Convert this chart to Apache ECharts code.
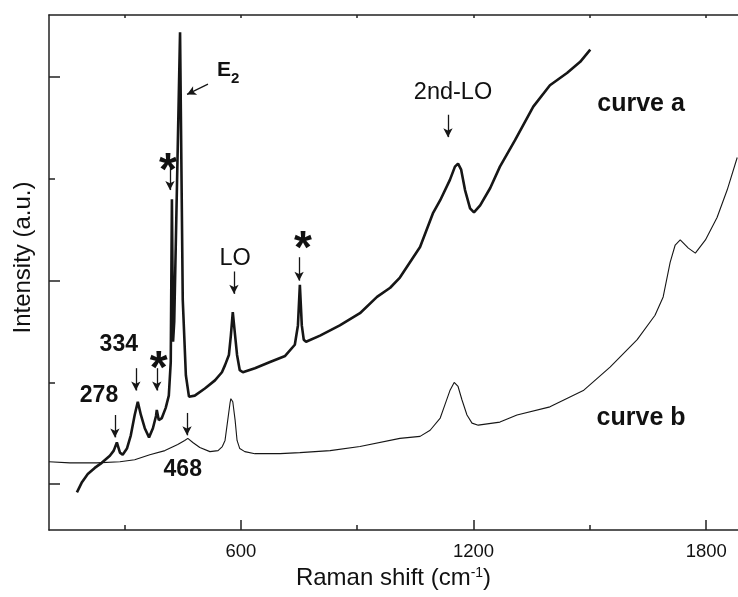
<!DOCTYPE html>
<html style="height: 100%">
<head>
<meta charset="utf-8">
</head>
<body style="height: 100%; margin: 0; background: #fff">
	<div id="container" style="width: 738px; height: 597px"></div>
	<script type="text/javascript"
		src="https://cdn.jsdelivr.net/npm/echarts/dist/echarts.min.js"></script>
	<script type="text/javascript">
		// Raman shift (cm-1), intensity in arbitrary units
		var curveA = [
			[177, -0.08], [190, 0.02], [205, 0.10], [223, 0.16], [241, 0.21],
			[262, 0.28], [272, 0.33], [280, 0.41], [288, 0.31], [295, 0.29],
			[306, 0.35], [316, 0.48], [326, 0.68], [334, 0.81], [342, 0.68],
			[352, 0.55], [363, 0.46], [373, 0.55], [381, 0.67], [383, 0.73],
			[388, 0.63], [396, 0.65], [406, 0.75], [414, 0.87], [419, 1.20],
			[422, 2.80], [425, 1.40], [428, 1.60], [443, 4.44], [450, 1.81],
			[458, 1.07], [466, 0.86], [481, 0.87], [507, 0.94], [533, 1.02],
			[551, 1.10], [559, 1.17], [569, 1.27], [574, 1.46], [579, 1.69],
			[585, 1.46], [590, 1.27], [597, 1.12], [605, 1.10], [636, 1.14],
			[675, 1.20], [714, 1.26], [739, 1.37], [747, 1.56], [752, 1.96],
			[757, 1.56], [762, 1.42], [768, 1.40], [804, 1.46], [855, 1.56],
			[907, 1.68], [951, 1.84], [985, 1.93], [1010, 2.03], [1036, 2.18],
			[1062, 2.33], [1095, 2.66], [1114, 2.79], [1139, 2.99], [1152, 3.12],
			[1160, 3.15], [1168, 3.09], [1178, 2.89], [1191, 2.71], [1201, 2.67],
			[1217, 2.74], [1243, 2.91], [1268, 3.12], [1307, 3.38], [1354, 3.71],
			[1397, 3.92], [1441, 4.04], [1475, 4.15], [1501, 4.27]
		];
		var curveB = [
			[105, 0.22], [159, 0.21], [228, 0.21], [288, 0.22], [326, 0.24],
			[365, 0.29], [404, 0.33], [437, 0.39], [455, 0.43], [463, 0.45],
			[476, 0.41], [494, 0.36], [520, 0.32], [541, 0.33], [552, 0.37],
			[559, 0.43], [566, 0.63], [572, 0.80], [574, 0.84], [579, 0.81],
			[585, 0.63], [590, 0.43], [597, 0.35], [610, 0.32], [636, 0.30],
			[701, 0.30], [752, 0.31], [830, 0.33], [907, 0.37], [1010, 0.45],
			[1062, 0.47], [1088, 0.53], [1114, 0.65], [1126, 0.78], [1139, 0.92],
			[1150, 1.00], [1160, 0.96], [1170, 0.83], [1183, 0.68], [1196, 0.60],
			[1212, 0.58], [1268, 0.61], [1312, 0.68], [1397, 0.76], [1483, 0.92],
			[1552, 1.15], [1622, 1.42], [1668, 1.66], [1689, 1.84], [1707, 2.18],
			[1720, 2.35], [1733, 2.40], [1754, 2.32], [1772, 2.27], [1798, 2.40],
			[1828, 2.62], [1854, 2.89], [1880, 3.21]
		];
		var xMajorTicks = [600, 1200, 1800];
		var xMinorTicks = [300, 900, 1500];
		var xTopTicks = [300, 600, 900, 1200, 1500, 1800];
		var yMajorTicks = [0, 2, 4];
		var yMinorTicks = [1, 3];
		// arrows: [x, yStart, yEnd]
		var arrows = [
			[275, 0.68, 0.46], [329, 1.14, 0.92], [383, 1.14, 0.92],
			[417, 3.11, 2.89], [582, 2.09, 1.87], [750, 2.23, 2.00],
			[1134, 3.63, 3.41], [461, 0.70, 0.48]
		];
		// curved arrow next to E2: [xStart, yStart, xEnd, yEnd]
		var e2Arrow = [515, 3.93, 461, 3.83];
		// labels: [text, x, y, kind]
		var labels = [
			['278', 234, 0.87, 'num'], ['334', 285, 1.37, 'num'],
			['468', 450, 0.14, 'num'], ['*', 388, 1.12, 'star'],
			['*', 412, 3.06, 'star'], ['*', 760, 2.30, 'star'],
			['LO', 585, 2.22, 'plain'], ['2nd-LO', 1147, 3.85, 'plain'],
			['curve a', 1632, 3.73, 'name'], ['curve b', 1632, 0.65, 'name']
		];

		var font = '"Liberation Sans", Arial, Helvetica, sans-serif';
		var ink = '#111';
		var kinds = {
			num: { fontSize: 23, fontWeight: 'bold' },
			name: { fontSize: 25, fontWeight: 'bold' },
			plain: { fontSize: 23.5, fontWeight: 'normal' },
			star: { fontSize: 46, fontWeight: 'bold' }
		};

		var labelData = labels.map(function(l) {
			return {
				value: [l[1], l[2]],
				label: {
					show: true,
					position: 'inside',
					formatter: l[0],
					fontSize: kinds[l[3]].fontSize,
					fontWeight: kinds[l[3]].fontWeight,
					fontFamily: font,
					color: ink
				}
			};
		});
		labelData.push({
			value: [538, 4.07],
			label: {
				show: true,
				position: 'inside',
				align: 'left',
				formatter: '{e|E}{s|2}',
				rich: {
					e: { fontSize: 21, fontWeight: 'bold', fontFamily: font, color: ink },
					s: { fontSize: 15, fontWeight: 'bold', fontFamily: font, color: ink,
						verticalAlign: 'bottom', padding: [0, 0, -6, 0] }
				}
			}
		});

		var arrowLines = arrows.map(function(a) {
			return [ { coord: [a[0], a[1]] }, { coord: [a[0], a[2]] } ];
		});

		var dom = document.getElementById('container');
		var myChart = echarts.init(dom);
		var axisLine = { show: true, onZero: false, lineStyle: { color: '#222', width: 1.5 } };
		var tickStyle = { color: '#222', width: 1.5 };
		var option = {
			animation: false,
			backgroundColor: '#fff',
			grid: { left: 49, right: 0, top: 15, bottom: 67 },
			xAxis: [ {
				type: 'value', position: 'bottom', min: 105, max: 1882,
				axisLine: axisLine,
				axisTick: { inside: true, length: 10, customValues: xMajorTicks,
					lineStyle: tickStyle },
				axisLabel: { customValues: xMajorTicks, fontSize: 18.5, fontFamily: font,
					color: ink, margin: 12,
					formatter: function(v) { return String(v); } },
				splitLine: { show: false },
				name: '{a|Raman shift (cm}{s|-1}{a|)}',
				nameLocation: 'middle', nameGap: 32,
				nameTextStyle: {
					rich: {
						a: { fontSize: 24, fontFamily: font, color: ink },
						s: { fontSize: 14, fontFamily: font, color: ink, verticalAlign: 'top',
							padding: [0, 0, 10, 0] }
					}
				}
			}, {
				type: 'value', position: 'bottom', min: 105, max: 1882,
				axisLine: { show: false, onZero: false },
				axisTick: { inside: true, length: 5, customValues: xMinorTicks,
					lineStyle: tickStyle },
				axisLabel: { show: false },
				splitLine: { show: false }
			}, {
				type: 'value', position: 'top', min: 105, max: 1882,
				axisLine: axisLine,
				axisTick: { inside: true, length: 3, customValues: xTopTicks,
					lineStyle: tickStyle },
				axisLabel: { show: false },
				splitLine: { show: false }
			} ],
			yAxis: [ {
				type: 'value', position: 'left', min: -0.45, max: 4.61,
				axisLine: axisLine,
				axisTick: { inside: true, length: 11, customValues: yMajorTicks,
					lineStyle: tickStyle },
				axisLabel: { show: false },
				splitLine: { show: false },
				name: 'Intensity (a.u.)',
				nameLocation: 'middle', nameGap: 14,
				nameTextStyle: { fontSize: 24, fontFamily: font, color: ink,
					padding: [0, 0, 0, 30] }
			}, {
				type: 'value', position: 'left', min: -0.45, max: 4.61,
				axisLine: { show: false, onZero: false },
				axisTick: { inside: true, length: 6, customValues: yMinorTicks,
					lineStyle: tickStyle },
				axisLabel: { show: false },
				splitLine: { show: false }
			} ],
			series: [ {
				name: 'curve a',
				type: 'line',
				data: curveA,
				showSymbol: false,
				lineStyle: { color: '#161616', width: 2.6 },
				silent: true,
				markLine: {
					silent: true,
					symbol: ['none', 'arrow'],
					symbolSize: [7, 9],
					label: { show: false },
					lineStyle: { color: '#161616', width: 1.3, type: 'solid', curveness: 0.9 },
					data: [ [ { coord: [e2Arrow[0], e2Arrow[1]] },
						{ coord: [e2Arrow[2], e2Arrow[3]] } ] ]
				}
			}, {
				name: 'curve b',
				type: 'line',
				data: curveB,
				showSymbol: false,
				lineStyle: { color: '#161616', width: 1.1 },
				silent: true,
				markLine: {
					silent: true,
					symbol: ['none', 'arrow'],
					symbolSize: [7, 9],
					label: { show: false },
					lineStyle: { color: '#161616', width: 1.3, type: 'solid' },
					data: arrowLines
				}
			}, {
				name: 'labels',
				type: 'scatter',
				symbolSize: 0,
				itemStyle: { opacity: 1 },
				data: labelData,
				silent: true
			} ]
		};
		myChart.setOption(option);
	</script>
</body>
</html>
